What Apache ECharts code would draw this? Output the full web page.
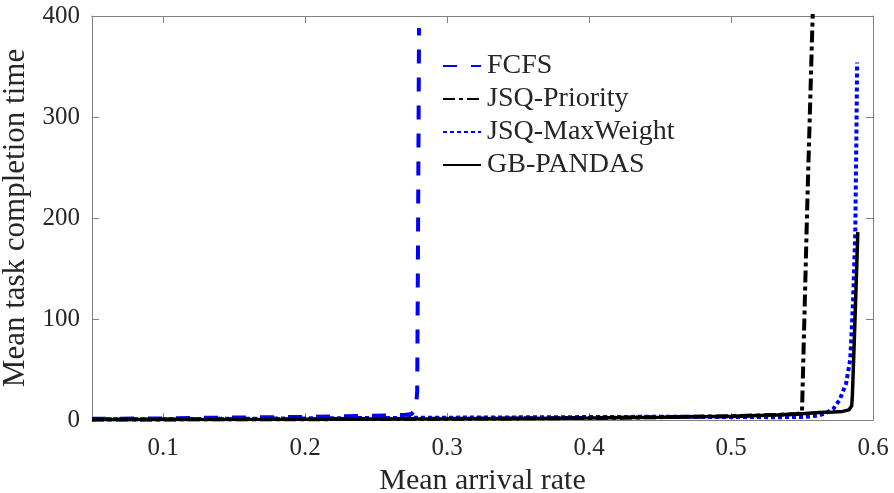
<!DOCTYPE html>
<html>
<head>
<meta charset="utf-8">
<script src="https://cdn.jsdelivr.net/npm/echarts@6/dist/echarts.min.js"></script>
<style>
  html, body { margin: 0; padding: 0; background: #fff; }
  #chart { width: 894px; height: 493px; }
</style>
</head>
<body>
<div id="chart"></div>
<script>
// Mean task completion time versus mean arrival rate for four schedulers.
const seriesNames = ['FCFS', 'JSQ-Priority', 'JSQ-MaxWeight', 'GB-PANDAS'];

const fcfsX = [0.05, 0.08, 0.10, 0.12, 0.15, 0.18, 0.20, 0.22, 0.24, 0.26, 0.27, 0.275, 0.278, 0.279, 0.2795, 0.2803];
const fcfsY = [1.2, 1.4, 1.6, 2.0, 2.4, 2.8, 3.1, 3.5, 4.0, 4.5, 5.0, 6.0, 10, 28, 150, 388];

const prioX = [0.05, 0.10, 0.20, 0.30, 0.35, 0.40, 0.45, 0.50, 0.532, 0.547, 0.550, 0.5538, 0.5575, 0.5583];
const prioY = [0.5, 0.6, 0.8, 1.2, 1.6, 2.0, 2.8, 3.8, 5.0, 6.0, 8, 218, 400, 440];

const mwX = [0.05, 0.10, 0.15, 0.20, 0.25, 0.30, 0.35, 0.40, 0.45, 0.50, 0.532, 0.552, 0.562, 0.567, 0.572, 0.5765, 0.581, 0.584, 0.586, 0.5875, 0.5883, 0.5888];
const mwY = [0.6, 0.9, 1.2, 1.6, 2.0, 2.3, 2.6, 2.9, 3.2, 3.0, 2.8, 3.0, 4.5, 7, 11, 20, 36, 60, 119, 185, 280, 354];

const gbX = [0.05, 0.10, 0.20, 0.30, 0.35, 0.40, 0.45, 0.50, 0.532, 0.552, 0.562, 0.572, 0.5786, 0.583, 0.585, 0.5855, 0.587, 0.5885, 0.5893];
const gbY = [0.5, 0.6, 0.8, 1.2, 1.6, 2.0, 2.8, 3.8, 5.0, 6.5, 7.5, 8.0, 8.5, 10, 14, 25, 86, 150, 186];

const xTicks = [0.1, 0.2, 0.3, 0.4, 0.5, 0.6];

const pairs = (xs, ys) => xs.map((x, i) => [x, ys[i]]);

const FONT = '"Liberation Serif", "Times New Roman", serif';
const TXT = '#262626';
const AXC = '#808080';

const chart = echarts.init(document.getElementById('chart'), null, { renderer: 'canvas' });

const baseX = {
  type: 'value', min: 0.05, max: 0.6,
  splitLine: { show: false },
  axisLine: { show: true, onZero: false, lineStyle: { color: AXC, width: 1 } },
  axisTick: { show: true, inside: true, length: 7, customValues: xTicks, lineStyle: { color: AXC } },
  minorTick: { show: false }
};
const baseY = {
  type: 'value', min: 0, max: 400, interval: 100,
  splitLine: { show: false },
  axisLine: { show: true, onZero: false, lineStyle: { color: AXC, width: 1 } },
  axisTick: { show: true, inside: true, length: 7, lineStyle: { color: AXC } }
};

chart.setOption({
  backgroundColor: '#fff',
  animation: false,
  grid: { left: 92, right: 21, top: 16, bottom: 73, containLabel: false, outerBoundsMode: 'none' },
  legend: {
    orient: 'vertical',
    left: 437, top: 47,
    itemWidth: 38, itemHeight: 14, itemGap: 5,
    data: seriesNames,
    itemStyle: { opacity: 0 },
    textStyle: { fontFamily: FONT, fontSize: 28, color: TXT, lineHeight: 28, padding: [0, 0, 0, 1] }
  },
  xAxis: [
    Object.assign({}, baseX, {
      position: 'bottom',
      name: 'Mean arrival rate', nameLocation: 'middle', nameGap: 45,
      nameTextStyle: { fontFamily: FONT, fontSize: 30, color: TXT },
      axisLabel: { show: true, customValues: xTicks, margin: 16, fontFamily: FONT, fontSize: 25, color: TXT,
        formatter: v => String(Math.round(v * 10) / 10) }
    }),
    Object.assign({}, baseX, { position: 'top', axisLabel: { show: false } })
  ],
  yAxis: [
    Object.assign({}, baseY, {
      position: 'left',
      name: 'Mean task completion time', nameLocation: 'middle', nameGap: 44,
      nameTextStyle: { fontFamily: FONT, fontSize: 31, color: TXT },
      axisLabel: { show: true, margin: 12, fontFamily: FONT, fontSize: 25, color: TXT }
    }),
    Object.assign({}, baseY, { position: 'right', axisLabel: { show: false } })
  ],
  series: [
    {
      name: seriesNames[0], type: 'line', data: pairs(fcfsX, fcfsY),
      showSymbol: false, symbol: 'none', clip: true,
      lineStyle: { color: '#0000ff', width: 4, type: [14, 14] }, itemStyle: { color: '#0000ff' }
    },
    {
      name: seriesNames[1], type: 'line', data: pairs(prioX, prioY),
      showSymbol: false, symbol: 'none', clip: true,
      lineStyle: { color: '#000000', width: 4, type: [12, 4, 4, 4] }, itemStyle: { color: '#000000' }
    },
    {
      name: seriesNames[2], type: 'line', data: pairs(mwX, mwY),
      showSymbol: false, symbol: 'none', clip: true,
      lineStyle: { color: '#0000ff', width: 4, type: [4, 3] }, itemStyle: { color: '#0000ff' }
    },
    {
      name: seriesNames[3], type: 'line', data: pairs(gbX, gbY),
      showSymbol: false, symbol: 'none', clip: true,
      lineStyle: { color: '#000000', width: 3.5, type: 'solid' }, itemStyle: { color: '#000000' }
    }
  ]
});
</script>
</body>
</html>
